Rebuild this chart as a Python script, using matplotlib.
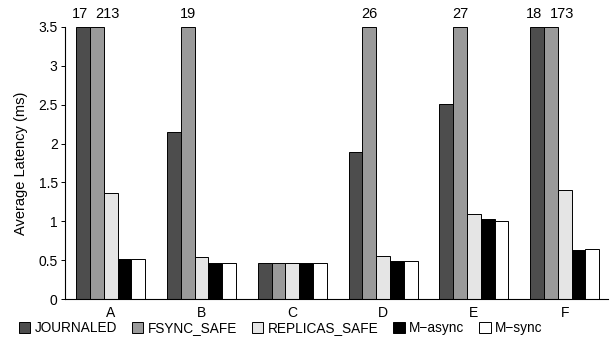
import numpy as np
import matplotlib
matplotlib.use("Agg")
import matplotlib.pyplot as plt

plt.rcParams['font.family'] = ['Liberation Sans', 'DejaVu Sans']

# Workloads and latency per write-concern mode (ms)
workloads = ["A", "B", "C", "D", "E", "F"]
series_names = ["JOURNALED", "FSYNC_SAFE", "REPLICAS_SAFE", "M\u2212async", "M\u2212sync"]
journaled = [17, 2.15, 0.46, 1.89, 2.51, 18]
fsync_safe = [213, 19, 0.46, 26, 27, 173]
replicas_safe = [1.37, 0.54, 0.47, 0.55, 1.10, 1.40]
m_async = [0.51, 0.47, 0.46, 0.49, 1.03, 0.63]
m_sync = [0.52, 0.47, 0.46, 0.49, 1.01, 0.64]
y_ticks = [0, 0.5, 1, 1.5, 2, 2.5, 3, 3.5]

series = [journaled, fsync_safe, replicas_safe, m_async, m_sync]
colors = ["#4d4d4d", "#9a9a9a", "#e5e5e5", "#000000", "#ffffff"]
ymax = 3.5

fig = plt.figure(figsize=(6.15, 3.41), dpi=100)
ax = fig.add_axes([0.105, 0.123, 0.884, 0.798])

x = np.arange(len(workloads))
width = 0.152
for k, (vals, col, name) in enumerate(zip(series, colors, series_names)):
    vals = np.asarray(vals, dtype=float)
    heights = np.minimum(vals, ymax)
    pos = x + (k - 2) * width
    ax.bar(pos, heights, width, color=col, edgecolor="black", linewidth=0.7, label=name)
    for i, (p, v) in enumerate(zip(pos, vals)):
        if v > ymax:
            # values beyond the axis are written above the clipped bar
            both = journaled[i] > ymax and fsync_safe[i] > ymax
            if k == 1 and both:
                ha, dx = "left", -1
            elif k == 0 and both:
                ha, dx = "center", -2
            else:
                ha, dx = "center", 0
            ax.annotate(f"{v:g}", xy=(p, ymax), xytext=(dx, 6.5),
                        textcoords="offset points", ha=ha, va="baseline",
                        fontsize=10.5, annotation_clip=False)

ax.set_xlim(-0.507, 5.479)
ax.set_ylim(0, ymax)
ax.set_yticks(y_ticks)
ax.set_yticklabels([f"{t:g}" for t in y_ticks])
ax.set_xticks(x)
ax.set_xticklabels(workloads)
ax.tick_params(axis="y", direction="out", length=3, width=0.7, pad=2, labelsize=10)
ax.tick_params(axis="x", length=0, pad=5, labelsize=10)
ax.spines["top"].set_visible(False)
ax.spines["right"].set_visible(False)
ax.spines["left"].set_linewidth(0.8)
ax.spines["bottom"].set_linewidth(0.8)
ax.set_ylabel("Average Latency (ms)", fontsize=10.5)
ax.yaxis.set_label_coords(-0.067, 0.5)

leg = ax.legend(loc="upper left", bbox_to_anchor=(-0.084, -0.082), ncol=5, frameon=False,
                fontsize=9.8, handlelength=0.85, handleheight=0.85, handletextpad=0.3,
                columnspacing=1.1, borderaxespad=0, borderpad=0)
for h in leg.legend_handles:
    h.set_linewidth(0.7)

fig.savefig("out.png", dpi=100)
